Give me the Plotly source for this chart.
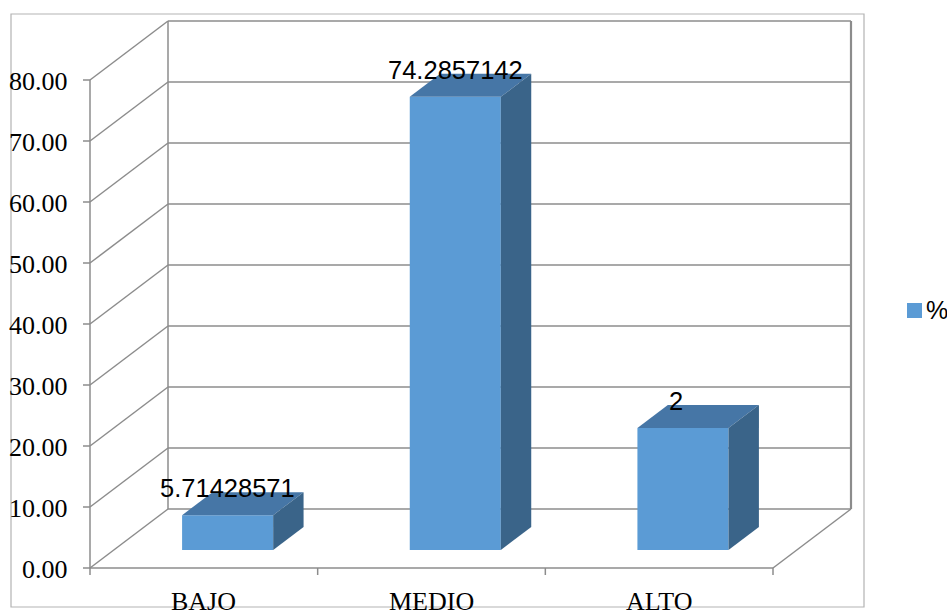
import plotly.graph_objects as go

# ---------------- data ----------------
categories = ["BAJO", "MEDIO", "ALTO"]
values = [5.71428571, 74.2857142, 20.0]
value_labels = ["5.71428571", "74.2857142", "2"]
tick_values = [0, 10, 20, 30, 40, 50, 60, 70, 80]
tick_labels = ["0.00", "10.00", "20.00", "30.00", "40.00", "50.00", "60.00", "70.00", "80.00"]
series_name = "%"

# ---------------- styling / projection ----------------
W, H = 947, 610
ML, MR, MT, MB = 78, 85, 10, 30
PX_CAT = 683 / 3.0          # px per category (front)
PX_VAL = 6.1                # px per value unit
X0_PX, Y0_PX = 90, 568      # pixel position of data origin
DX = 78 / PX_CAT            # depth offset in x data units
DY = 59 / PX_VAL            # depth offset in y data units
F0, F1 = 0.305, 0.695       # bar depth span (fraction of full depth)
BAR_W = 0.4

plot_w = W - ML - MR
plot_h = H - MT - MB
x_range = [-(X0_PX - ML) / PX_CAT, (W - MR - X0_PX) / PX_CAT]
y_range = [-((H - MB) - Y0_PX) / PX_VAL, (Y0_PX - MT) / PX_VAL]

def px_x(p):
    return (p - ML) / plot_w

def px_y(p):
    return ((H - MB) - p) / plot_h

GRID = "#8c8c8c"
FRONT = "#5b9bd5"
TOP = "#4676a6"
SIDE = "#3a6489"
SERIF = "Liberation Serif, Times New Roman, serif"
SANS = "Liberation Sans, Arial, sans-serif"

fig = go.Figure()
shapes = []
ncat = len(categories)
vmax = max(tick_values)

def line(x0, y0, x1, y1, width=1.5, color=GRID):
    shapes.append(dict(type="line", xref="x", yref="y", x0=x0, y0=y0, x1=x1, y1=y1,
                       line=dict(color=color, width=width), layer="below"))

# walls & grid
for v in tick_values:
    line(0, v, DX, v + DY)
    line(DX, v + DY, ncat + DX, v + DY)
line(0, 0, 0, vmax)
line(DX, DY, DX, vmax + DY)
line(ncat + DX, DY, ncat + DX, vmax + DY, width=2.2)
line(0, 0, ncat, 0)
line(ncat, 0, ncat + DX, DY)

# tick marks on value axis
for v in tick_values:
    shapes.append(dict(type="line", xref="x", yref="y", xsizemode="pixel", xanchor=0,
                       x0=-7, x1=0, y0=v, y1=v, line=dict(color=GRID, width=1.5), layer="below"))
# tick marks on category axis
for i in range(ncat + 1):
    shapes.append(dict(type="line", xref="x", yref="y", ysizemode="pixel", yanchor=0,
                       x0=i, x1=i, y0=-7, y1=0, line=dict(color=GRID, width=1.5), layer="below"))

# outer chart border
shapes.append(dict(type="rect", xref="paper", yref="paper",
                   x0=px_x(11), x1=px_x(864), y0=px_y(607), y1=px_y(14),
                   line=dict(color="#b3b3b3", width=1.2), layer="below"))

# legend swatch
shapes.append(dict(type="rect", xref="paper", yref="paper",
                   x0=px_x(907), x1=px_x(922), y0=px_y(318), y1=px_y(303),
                   fillcolor=FRONT, line=dict(width=0)))

# bars: front faces
front_x = [i + 0.5 + F0 * DX for i in range(ncat)]
fig.add_trace(go.Bar(x=front_x, y=values, base=[F0 * DY] * ncat, width=BAR_W,
                     marker=dict(color=FRONT, line=dict(width=0)),
                     name=series_name, showlegend=False, hoverinfo="skip"))

# top & side faces
for i, v in enumerate(values):
    xl = i + 0.5 - BAR_W / 2
    xr = i + 0.5 + BAR_W / 2
    top_x = [xl + F0 * DX, xr + F0 * DX, xr + F1 * DX, xl + F1 * DX, xl + F0 * DX]
    top_y = [F0 * DY + v, F0 * DY + v, F1 * DY + v, F1 * DY + v, F0 * DY + v]
    fig.add_trace(go.Scatter(x=top_x, y=top_y, fill="toself", fillcolor=TOP, mode="lines",
                             line=dict(width=0, color=TOP), showlegend=False, hoverinfo="skip"))
    side_x = [xr + F0 * DX, xr + F1 * DX, xr + F1 * DX, xr + F0 * DX, xr + F0 * DX]
    side_y = [F0 * DY, F1 * DY, F1 * DY + v, F0 * DY + v, F0 * DY]
    fig.add_trace(go.Scatter(x=side_x, y=side_y, fill="toself", fillcolor=SIDE, mode="lines",
                             line=dict(width=0, color=SIDE), showlegend=False, hoverinfo="skip"))

annotations = []
# value labels
for i, (v, t) in enumerate(zip(values, value_labels)):
    annotations.append(dict(x=front_x[i], y=F0 * DY + v, text=t, showarrow=False,
                            xanchor="center", yanchor="middle", yshift=27,
                            xshift=-7 if len(t) == 1 else 0,
                            font=dict(family=SANS, size=25.5, color="#000000")))
# value tick labels
for v, t in zip(tick_values, tick_labels):
    annotations.append(dict(x=0, y=v, text=t, showarrow=False, xanchor="right", yanchor="middle",
                            xshift=-20, yshift=-1,
                            font=dict(family=SERIF, size=26, color="#000000")))
# category labels
for i, c in enumerate(categories):
    annotations.append(dict(x=i + 0.5, y=0, text=c, showarrow=False, xanchor="center", yanchor="top",
                            yshift=-17,
                            font=dict(family=SERIF, size=26, color="#000000")))
# legend text
annotations.append(dict(xref="paper", yref="paper", x=px_x(924), y=px_y(310), text=series_name,
                        showarrow=False, xanchor="left", yanchor="middle",
                        font=dict(family=SANS, size=25, color="#000000")))

fig.update_layout(
    width=W, height=H,
    margin=dict(l=ML, r=MR, t=MT, b=MB, autoexpand=False),
    paper_bgcolor="white", plot_bgcolor="rgba(0,0,0,0)",
    xaxis=dict(range=x_range, visible=False, fixedrange=True),
    yaxis=dict(range=y_range, visible=False, fixedrange=True),
    shapes=shapes, annotations=annotations,
    showlegend=False,
)

fig.write_html("out.html")
